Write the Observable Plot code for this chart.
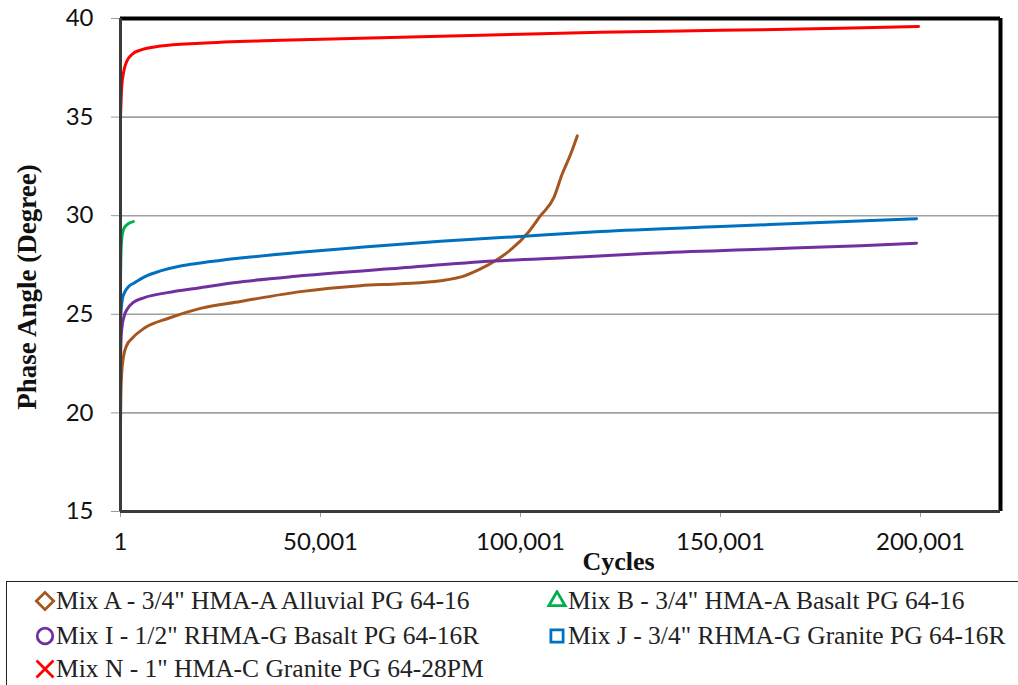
<!DOCTYPE html>
<html>
<head>
<meta charset="utf-8">
<script src="https://cdn.jsdelivr.net/npm/d3@7"></script>
<script src="https://cdn.jsdelivr.net/npm/@observablehq/plot@0.6"></script>
<style>
  html, body { margin: 0; padding: 0; background: #fff; overflow: hidden; }
  #wrap { position: relative; width: 1018px; height: 685px; }
  #legend {
    position: absolute; left: 6px; top: 581px; width: 1040px; height: 140px;
    border: 1.5px solid #222; box-sizing: border-box; background: #fff;
    font-family: "Liberation Serif", "Times New Roman", serif; font-size: 25.5px; color: #222;
  }
  .item { position: absolute; display: flex; align-items: center; white-space: nowrap; }
  .item svg { margin-right: 0px; }
</style>
</head>
<body>
<div id="wrap"></div>
<script>
// Phase angle vs. load cycles for five asphalt mixes
const mixACycles = [1, 100, 300, 700, 1500, 3000, 6000, 12000, 20000, 30000, 45000, 60000, 70000, 80000, 86000, 90000, 94000, 98000, 101700, 105000, 108300, 110400, 112500, 114200];
const mixAAngle  = [19.5, 21.0, 22.0, 22.8, 23.4, 23.8, 24.3, 24.8, 25.3, 25.65, 26.15, 26.45, 26.55, 26.7, 26.95, 27.3, 27.75, 28.35, 29.1, 30.0, 30.9, 32.1, 33.1, 34.05];

const mixBCycles = [1, 100, 300, 600, 1000, 2000, 3200];
const mixBAngle  = [26.8, 28.0, 28.8, 29.2, 29.4, 29.6, 29.7];

const mixICycles = [1, 150, 400, 900, 1800, 3200, 6000, 11700, 20000, 28300, 45000, 70000, 93300, 115000, 132500, 160000, 185000, 199000];
const mixIAngle  = [22.8, 23.8, 24.4, 24.9, 25.3, 25.6, 25.85, 26.1, 26.35, 26.6, 26.95, 27.35, 27.7, 27.9, 28.1, 28.3, 28.48, 28.6];

const mixJCycles = [1, 200, 500, 1000, 2000, 3500, 6000, 10000, 15000, 20000, 30000, 45000, 60000, 80000, 100000, 120000, 150000, 175000, 199000];
const mixJAngle  = [24.7, 25.3, 25.8, 26.1, 26.4, 26.6, 26.9, 27.2, 27.45, 27.6, 27.85, 28.15, 28.4, 28.7, 28.95, 29.2, 29.45, 29.65, 29.85];

const mixNCycles = [1, 300, 800, 1500, 3000, 5000, 10000, 20000, 40000, 60000, 80000, 100000, 120000, 150000, 180000, 199500];
const mixNAngle  = [35.0, 36.5, 37.3, 37.8, 38.2, 38.4, 38.6, 38.75, 38.9, 39.0, 39.1, 39.2, 39.3, 39.4, 39.5, 39.6];

const seriesNames  = ["Mix A - 3/4\" HMA-A Alluvial PG 64-16", "Mix B - 3/4\" HMA-A Basalt PG 64-16", "Mix I - 1/2\" RHMA-G Basalt PG 64-16R", "Mix J - 3/4\" RHMA-G Granite PG 64-16R", "Mix N - 1\" HMA-C Granite PG 64-28PM"];
const seriesColors = ["#A5561E", "#00B050", "#7030A0", "#0070C0", "#FF0000"];
const seriesSymbols = [d3.symbolDiamond2, d3.symbolTriangle2, d3.symbolCircle, d3.symbolSquare2, d3.symbolTimes];

const xTicks = [1, 50001, 100001, 150001, 200001];
const yTicks = [15, 20, 25, 30, 35, 40];
const yGrid  = [20, 25, 30, 35];

const seriesCycles = [mixACycles, mixBCycles, mixICycles, mixJCycles, mixNCycles];
const seriesAngles = [mixAAngle, mixBAngle, mixIAngle, mixJAngle, mixNAngle];
const rows = seriesNames.flatMap((name, i) =>
  seriesCycles[i].map((c, j) => ({series: name, cycles: c, angle: seriesAngles[i][j]})));

const xMin = 1, xMax = 220001, yMin = 15, yMax = 40;
const serif = "Liberation Serif, Times New Roman, serif";

const chart = Plot.plot({
  width: 1018,
  height: 580,
  marginLeft: 120,
  marginRight: 18,
  marginTop: 18,
  marginBottom: 69,
  style: {fontFamily: "Lato, sans-serif", fontSize: "24px", color: "#111", background: "#fff"},
  x: {domain: [xMin, xMax]},
  y: {domain: [yMin, yMax]},
  color: {domain: seriesNames, range: seriesColors},
  marks: [
    Plot.ruleY(yGrid, {stroke: "#a0a0a0", strokeWidth: 1.6}),
    Plot.axisY(yTicks, {tickSize: 9, tickPadding: 18, stroke: "#999", fill: "#111", label: null}),
    Plot.axisX(xTicks, {tickSize: 6, tickPadding: 15, stroke: "#999", fill: "#111", tickFormat: d3.format(","), label: null}),
    Plot.line(rows, {x: "cycles", y: "angle", z: "series", stroke: "series", strokeWidth: 3, curve: "monotone-x"}),
    // chart frame: dark grey on the axis sides, black on the top and right
    Plot.ruleY([yMax], {stroke: "#000", strokeWidth: 4}),
    Plot.ruleX([xMax], {stroke: "#000", strokeWidth: 4}),
    Plot.ruleX([xMin], {stroke: "#3a3a3a", strokeWidth: 3}),
    Plot.ruleY([yMin], {stroke: "#3a3a3a", strokeWidth: 3}),
    Plot.text(["Phase Angle (Degree)"], {frameAnchor: "left", textAnchor: "middle", lineAnchor: "middle",
      dx: -93, dy: 22, rotate: -90,
      fontFamily: serif, fontWeight: "bold", fontSize: 27, fill: "#111"}),
    Plot.text(["Cycles"], {frameAnchor: "bottom", textAnchor: "middle", lineAnchor: "middle", dx: 58, dy: 50,
      fontFamily: serif, fontWeight: "bold", fontSize: 26, fill: "#111"})
  ]
});

const wrap = document.getElementById("wrap");
wrap.appendChild(chart);

// legend box below the chart
const legend = document.createElement("div");
legend.id = "legend";
wrap.appendChild(legend);
const legendPos = [[27, 19], [539, 19], [27, 54], [539, 54], [27, 87]];
seriesNames.forEach((name, i) => {
  const item = document.createElement("div");
  item.className = "item";
  item.style.left = legendPos[i][0] + "px";
  item.style.top = (legendPos[i][1] - 15) + "px";
  item.style.height = "30px";
  const svg = d3.create("svg").attr("width", 22).attr("height", 22);
  svg.append("path")
    .attr("transform", "translate(11,11)")
    .attr("d", d3.symbol(seriesSymbols[i], 190)())
    .attr("fill", "none")
    .attr("stroke", seriesColors[i])
    .attr("stroke-width", 2.8);
  item.appendChild(svg.node());
  const label = document.createElement("span");
  label.textContent = name;
  item.appendChild(label);
  legend.appendChild(item);
});
</script>
</body>
</html>
